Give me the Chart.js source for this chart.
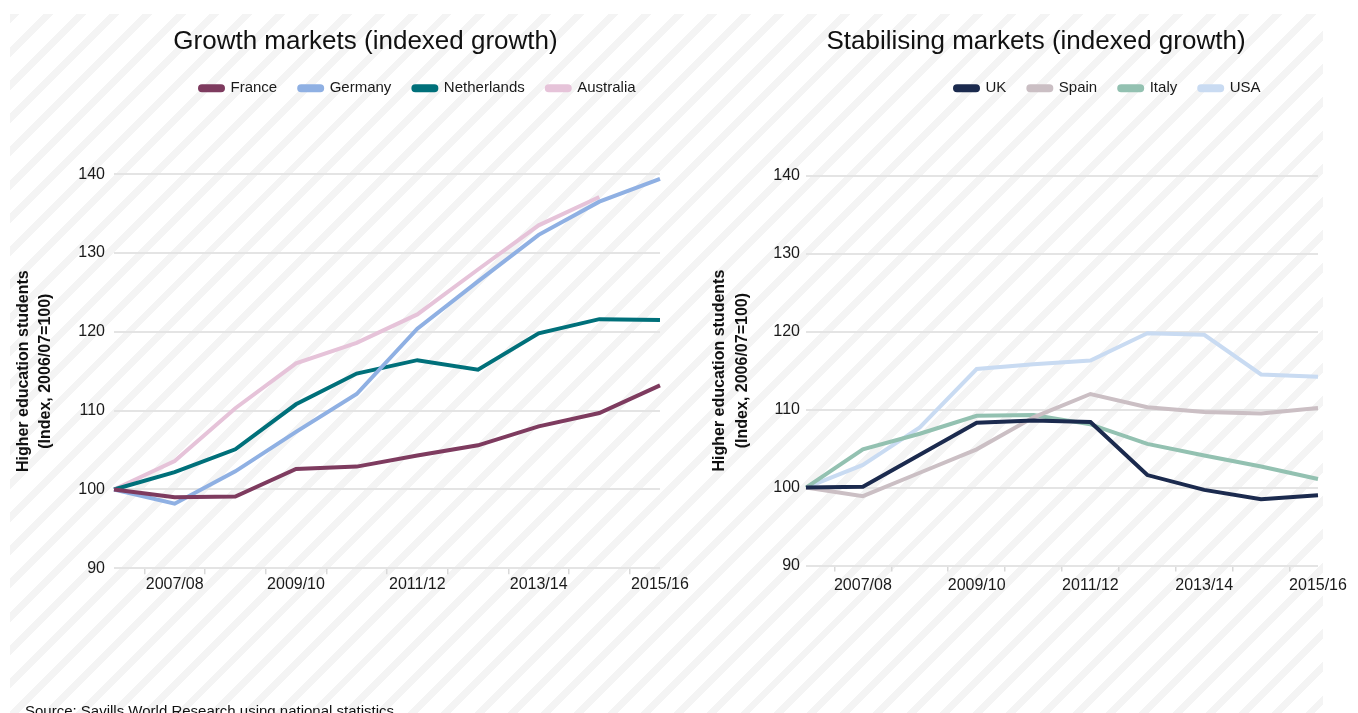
<!DOCTYPE html>
<html>
<head>
<meta charset="utf-8">
<script src="https://cdn.jsdelivr.net/npm/chart.js@4.4.0/dist/chart.umd.min.js"></script>
<style>
  body { margin: 0; width: 1358px; height: 713px; overflow: hidden; position: relative; background: #fff; font-family: "Liberation Sans", Arial, sans-serif; }
  #bg { position: absolute; left: 10px; top: 14px; width: 1313px; height: 699px;
        background: repeating-linear-gradient(135deg, #f4f4f4 0 7px, #fff 7px 23.5px); }
  #leftWrap { position: absolute; left: 0; top: 0; width: 690px; height: 713px; }
  #rightWrap { position: absolute; left: 690px; top: 0; width: 668px; height: 713px; }
  #source { position: absolute; left: 25px; top: 703px; font-size: 15px; line-height: 15px; color: #111; white-space: nowrap; }
</style>
</head>
<body>
<div id="bg"></div>
<div id="leftWrap"><canvas id="growthChart"></canvas></div>
<div id="rightWrap"><canvas id="stableChart"></canvas></div>
<div id="source">Source: Savills World Research using national statistics</div>
<script>
// data (index, 2006/07 = 100)
var years = ['2006/07', '2007/08', '2008/09', '2009/10', '2010/11', '2011/12', '2012/13', '2013/14', '2014/15', '2015/16'];
var yTicks = [90, 100, 110, 120, 130, 140];

var france      = [100, 99.0, 99.1, 102.6, 102.9, 104.3, 105.6, 108.0, 109.7, 113.2];
var germany     = [100, 98.2, 102.3, 107.3, 112.1, 120.4, 126.4, 132.3, 136.5, 139.4];
var netherlands = [100, 102.2, 105.1, 110.8, 114.7, 116.4, 115.2, 119.8, 121.6, 121.5];
var australia   = [100, 103.6, 110.3, 116.0, 118.6, 122.2, 127.9, 133.5, 137.1, null];

var uk    = [100, 100.1, 104.2, 108.3, 108.6, 108.4, 101.6, 99.7, 98.5, 99.0];
var spain = [100, 98.9, 101.9, 104.9, 109.0, 112.0, 110.3, 109.7, 109.5, 110.2];
var italy = [100, 104.9, 106.9, 109.2, 109.3, 108.1, 105.6, 104.1, 102.7, 101.1];
var usa   = [100, 102.9, 107.7, 115.2, 115.8, 116.3, 119.8, 119.6, 114.5, 114.2];

Chart.defaults.font.family = '"Liberation Sans", Arial, Helvetica, sans-serif';
Chart.defaults.color = '#1a1a1a';

function line(label, data, color) {
    return {
        label: label,
        data: data,
        borderColor: color,
        backgroundColor: color,
        borderWidth: 4,
        pointRadius: 0,
        tension: 0,
        fill: false
    };
}

function makeChart(id, title, datasets, lay) {
    var ctx = document.getElementById(id).getContext('2d');
    // pins the plot area and shifts title / legend to where the reference has them
    var fixLayout = {
        id: 'fixLayout',
        beforeInit: function (chart) {
            var lg = chart.legend;
            var fit = lg.fit;
            lg.fit = function () {
                fit.call(this);
                this.height = lay.legendH;
            };
        },
        afterLayout: function (chart) {
            chart.titleBlock.left += lay.titleShift;
            chart.titleBlock.right += lay.titleShift;
            chart.legend.left = lay.legendX - 22;
        }
    };
    return new Chart(ctx, {
        type: 'line',
        data: { labels: years, datasets: datasets },
        plugins: [fixLayout],
        options: {
            responsive: true,
            maintainAspectRatio: false,
            animation: false,
            layout: { padding: { left: 0, right: lay.padRight, top: 0, bottom: 0 } },
            plugins: {
                title: {
                    display: true,
                    text: title,
                    color: '#111',
                    font: { size: 26, weight: 'normal' },
                    padding: { top: 26, bottom: 1.5 }
                },
                legend: {
                    align: 'start',
                    labels: {
                        boxWidth: 23,
                        boxHeight: 4,
                        padding: 22,
                        useBorderRadius: true,
                        borderRadius: 2,
                        font: { size: 15 },
                        color: '#1a1a1a'
                    }
                },
                tooltip: { enabled: false }
            },
            scales: {
                x: {
                    grid: {
                        display: true,
                        drawOnChartArea: false,
                        drawTicks: true,
                        tickLength: 6,
                        offset: true,
                        color: '#d9d9d9',
                        lineWidth: 1.5
                    },
                    border: { display: false },
                    ticks: {
                        autoSkip: false,
                        maxRotation: 0,
                        padding: lay.xPad,
                        font: { size: 16 },
                        callback: function (value, index) {
                            return index % 2 === 1 ? this.getLabelForValue(value) : '';
                        }
                    },
                    afterFit: function (scale) {
                        scale.paddingLeft = 0;
                        scale.paddingRight = 0;
                        scale.height = lay.xAxisH;
                    }
                },
                y: {
                    min: yTicks[0],
                    max: yTicks[yTicks.length - 1],
                    afterBuildTicks: function (scale) {
                        scale.ticks = yTicks.map(function (v) { return { value: v }; });
                    },
                    grid: { color: '#e4e4e4', lineWidth: 2, drawTicks: false },
                    border: { display: false },
                    ticks: { padding: lay.yPad, font: { size: 16 } },
                    title: {
                        display: true,
                        text: ['Higher education students', '(Index, 2006/07=100)'],
                        color: '#111',
                        font: { size: 16, weight: 'bold', lineHeight: 1.4 },
                        padding: { top: lay.yTitlePad, bottom: 0 }
                    },
                    afterFit: function (scale) {
                        scale.width = lay.yAxisW;
                    }
                }
            }
        }
    });
}

document.addEventListener('DOMContentLoaded', function () {
    makeChart('growthChart', 'Growth markets (indexed growth)', [
        line('France', france, '#7e3b5f'),
        line('Germany', germany, '#8fb0e3'),
        line('Netherlands', netherlands, '#00707a'),
        line('Australia', australia, '#e6c3d9')
    ], { legendH: 115.4, titleShift: 35.5, legendX: 200, padRight: 30, xAxisH: 144.7, xPad: 1, yPad: 9, yAxisW: 114, yTitlePad: 12 });

    makeChart('stableChart', 'Stabilising markets (indexed growth)', [
        line('UK', uk, '#1b2a4e'),
        line('Spain', spain, '#cbbfc4'),
        line('Italy', italy, '#93c1b1'),
        line('USA', usa, '#c9dbf2')
    ], { legendH: 117, titleShift: 32, legendX: 265, padRight: 40, xAxisH: 147.5, xPad: 4, yPad: 6, yAxisW: 116, yTitlePad: 18.5 });
});
</script>
</body>
</html>
